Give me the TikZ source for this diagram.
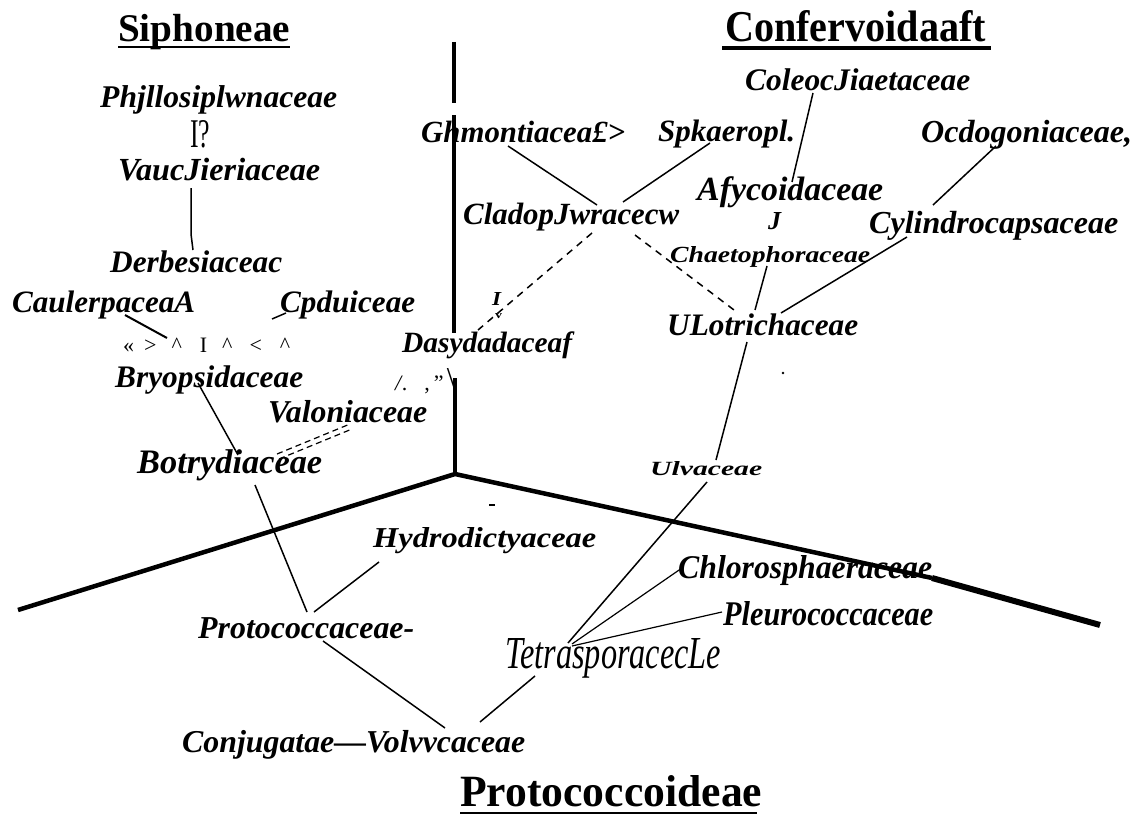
\documentclass[tikz,border=0pt]{standalone}
\usepackage{fontspec}
\setmainfont{Liberation Serif}
\newcommand{\fw}[2]{\resizebox{#1pt}{!}{#2}}
\newcommand{\fwh}[3]{\resizebox{#1pt}{#2pt}{#3}}
\begin{document}
\begin{tikzpicture}[x=1pt,y=-1pt,
  lab/.style={anchor=base west,inner sep=0pt,font=\fontsize{31}{31}\selectfont\bfseries\itshape},
  lite/.style={anchor=base west,inner sep=0pt,font=\fontsize{31}{31}\selectfont\itshape},
  ttl/.style={anchor=base west,inner sep=0pt,font=\fontsize{40}{40}\selectfont\bfseries},
  symb/.style={anchor=base west,inner sep=0pt,font=\fontsize{22}{22}\selectfont},
  link/.style={line width=1.5pt},
  dlink/.style={line width=1.5pt,dash pattern=on 7pt off 6pt},
  axisline/.style={line width=4pt},
  uline/.style={line width=2.5pt}]
\useasboundingbox[fill=white] (0,0) rectangle (1136,816);

% ---------- titles ----------
\node[ttl] (sip) at (118,42) {\fw{172}{Siphoneae}};
\node[ttl] (con) at (725,42) {\fwh{261}{31}{Confervoidaaft}};
\node[ttl] (pro) at (460,806) {\fwh{302}{31}{Protococcoideae}};
\draw[uline] ([shift={(0,5)}]sip.base west) -- ([shift={(0,5)}]sip.base east);
\draw[line width=3.5pt] ([shift={(-3,6)}]con.base west) -- ([shift={(5,6)}]con.base east);
\draw[line width=2pt] ([shift={(0,7)}]pro.base west) -- ([shift={(-5,7)}]pro.base east);

% ---------- axes ----------
\coordinate (axtop) at (454,42);
\coordinate (axg1) at (454,103);
\coordinate (axg2) at (454,115);
\coordinate (axd1) at (454,333);
\coordinate (axd2) at (455,378);
\coordinate (jn) at (455,474);
\coordinate (axl) at (18,610);
\coordinate (axrm) at (932,578);
\coordinate (axr) at (1100,625);
\draw[axisline] (axtop) -- (axg1);
\draw[axisline] (axg2) -- (axd1);
\draw[axisline,line join=round] (axd2) -- (jn);
\draw[line width=4.5pt,line join=round] (axl) -- (jn) -- (axrm);
\draw[line width=6pt] (axrm) -- (axr);

% ---------- labels ----------
\node[lab] (phj) at (100,107) {\fw{237}{Phjllosiplwnaceae}};
\node[anchor=base west,inner sep=0pt,font=\fontsize{28}{28}\selectfont] (iq) at (190,147) {\fwh{20}{27}{I?}};
\node[lab] (vau) at (118,180) {\fw{202}{VaucJieriaceae}};
\node[lab] (der) at (110,272) {\fw{172}{Derbesiaceac}};
\node[lab] (cau) at (12,312) {\fw{183}{CaulerpaceaA}};
\node[lab] (cpd) at (280,312) {\fw{135}{Cpduiceae}};
\node[symb] (sym) at (123,352) {«\hspace{10pt}>\hspace{15pt}\textasciicircum\hspace{18pt}I\hspace{15pt}\textasciicircum\hspace{17pt}<\hspace{18pt}\textasciicircum};
\node[lab] (bry) at (115,387) {\fw{188}{Bryopsidaceae}};
\node[lab] (val) at (268,422) {\fw{159}{Valoniaceae}};
\node[lab] (bot) at (137,473) {\fw{185}{Botrydiaceae}};
\node[lab] (das) at (402,352) {\fw{170}{Dasydadaceaf}};
\node[symb] (slsh) at (395,390) {\textit{/}\hspace{-1pt}.\hspace{17pt},\hspace{4pt}''\hspace{3pt}\fwh{9}{22}{\textbackslash}};
\node[lab] (iv) at (492,305) {\fwh{9}{13}{I}};
\node[anchor=base west,inner sep=0pt,font=\bfseries] (vv) at (495,318) {\fwh{7}{5}{v}};

\node[lab] (col) at (745,91) {\fw{225}{ColeocJiaetaceae}};
\node[lab] (ghm) at (421,142) {\fw{204}{Ghmontiacea£>}};
\node[lab] (spk) at (658,142) {\fw{137}{Spkaeropl.}};
\node[lab] (ocd) at (921,142) {\fw{211}{Ocdogoniaceae,}};
\node[lab] (afy) at (697,200) {\fw{186}{Afycoidaceae}};
\node[lab] (jj) at (768,229) {\fwh{13}{17}{J}};
\node[lab] (cla) at (463,224) {\fw{216}{CladopJwracecw}};
\node[lab] (cyl) at (869,233) {\fw{249}{Cylindrocapsaceae}};
\node[lab] (cha) at (670,262) {\fwh{200}{16}{Chaetophoraceae}};
\node[lab] (ulo) at (667,335) {\fw{191}{ULotrichaceae}};
\node[lab] (ulv) at (650,475) {\fwh{112}{14}{Ulvaceae}};

\node[lab] (hyd) at (373,547) {\fwh{223}{20}{Hydrodictyaceae}};
\node[lab] (chl) at (678,578) {\fwh{254}{23}{Chlorosphaeraceae}};
\node[lab] (ple) at (723,625) {\fwh{210}{24}{Pleurococcaceae}};
\node[lite] (tet) at (505,668) {\fwh{216}{30}{TetrasporacecLe}};
\node[lab] (ptc) at (198,638) {\fw{216}{Protococcaceae-}};
\node[lab] (cvo) at (182,752) {\fw{343}{Conjugatae—Volvvcaceae}};

% ---------- connectors ----------
\draw[link] ([shift={(73,8)}]vau.base west) -- ([shift={(73,54)}]vau.base west) -- ([shift={(83,-22)}]der.base west);
\draw[line width=2pt] ([shift={(113,3)}]cau.base west) -- ([shift={(44,-14)}]sym.base west);
\draw[link] ([shift={(149,-33)}]sym.base west) -- ([shift={(6,1)}]cpd.base west);
\draw[link] ([shift={(83,-4)}]bry.base west) -- ([shift={(101,-18)}]bot.base west);
\draw[link] ([shift={(118,12)}]bot.base west) -- ([shift={(109,-26)}]ptc.base west);
\draw[line width=1.2pt,dash pattern=on 6pt off 4pt] ([shift={(140,-19)}]bot.base west) -- ([shift={(82,2)}]val.base west);
\draw[line width=1.2pt,dash pattern=on 6pt off 4pt] ([shift={(142,-14)}]bot.base west) -- ([shift={(84,7)}]val.base west);

\draw[dlink] ([shift={(129,9)}]cla.base west) -- ([shift={(76,-22)}]das.base west);
\draw[dlink] ([shift={(172,11)}]cla.base west) -- ([shift={(71,-22)}]ulo.base west);
\draw[link] ([shift={(87,4)}]ghm.base west) -- ([shift={(134,-19)}]cla.base west);
\draw[link] ([shift={(52,1)}]spk.base west) -- ([shift={(160,-22)}]cla.base west);
\draw[link] ([shift={(68,2)}]col.base west) -- ([shift={(95,-18)}]afy.base west);
\draw[link] ([shift={(75,4)}]ocd.base west) -- ([shift={(64,-28)}]cyl.base west);
\draw[link] ([shift={(38,4)}]cyl.base west) -- ([shift={(114,-22)}]ulo.base west);
\draw[link] ([shift={(97,4)}]cha.base west) -- ([shift={(88,-25)}]ulo.base west);
\draw[link] ([shift={(80,7)}]ulo.base west) -- ([shift={(66,-15)}]ulv.base west);

\draw[link] ([shift={(57,7)}]ulv.base west) -- ([shift={(63,-25)}]tet.base west);
\draw[line width=1.2pt] ([shift={(67,-24)}]tet.base west) -- ([shift={(4,-10)}]chl.base west);
\draw[line width=1.2pt] ([shift={(67,-22)}]tet.base west) -- ([shift={(-1,-13)}]ple.base west);
\draw[link] ([shift={(30,8)}]tet.base west) -- ([shift={(298,-30)}]cvo.base west);
\draw[link] ([shift={(6,15)}]hyd.base west) -- ([shift={(116,-26)}]ptc.base west);
\draw[link] ([shift={(125,3)}]ptc.base west) -- ([shift={(263,-24)}]cvo.base west);

% ---------- specks ----------
\fill (783,373) circle (1.3);
\draw[line width=1.5pt] (489,505) -- (495,505);
\end{tikzpicture}
\end{document}
